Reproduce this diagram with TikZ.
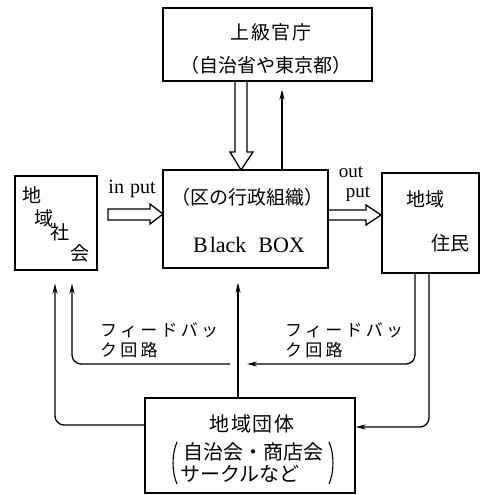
\documentclass[tikz,border=0pt]{standalone}
\usepackage{fontspec}
\setmainfont{Liberation Serif}
\newfontfamily\jp{Noto Sans CJK JP}
\newfontfamily\jps{Noto Sans CJK JP}[LetterSpace=19]
\newfontfamily\jpw{Noto Sans CJK JP}[LetterSpace=8]
\usetikzlibrary{arrows.meta,calc}
\begin{document}
\begin{tikzpicture}[x=1pt,y=1pt,
  box/.style={draw, line width=1.4pt, inner sep=0pt},
  jpt/.style={font=\jp\fontsize{19}{22}\selectfont, inner sep=0pt},
  jpb/.style={font=\jp\fontsize{20}{22}\selectfont, inner sep=0pt},
  jpk/.style={font=\jps\fontsize{17}{20}\selectfont, inner sep=0pt, anchor=west},
  lat/.style={font=\fontsize{20}{22}\selectfont, inner sep=0pt},
  arr/.style={line width=1.3pt, -{Stealth[length=10pt,width=5pt]}},
  hollow/.style={line width=1.3pt, line join=miter},
  paren/.style={line width=1.1pt}]
\useasboundingbox (0,0) rectangle (482,495);

% boxes
\node[box, minimum width=209pt, minimum height=73pt] (top) at (267.5,450.5) {};
\node[box, minimum width=82pt, minimum height=94pt] (lb) at (56,272) {};
\node[box, minimum width=165pt, minimum height=98pt] (bb) at (245.5,276) {};
\node[box, minimum width=97pt, minimum height=100pt] (rb) at (430.5,272) {};
\node[box, minimum width=210pt, minimum height=95pt] (bot) at (250,49.5) {};

% texts
\node[jpt, font=\jpw\fontsize{19}{22}\selectfont] (t1) at (271,463) {上級官庁};
\node[jpt] (t2) at (266,430) {（自治省や東京都）};
\node[jpt] (l1) at (32,300) {地};
\node[jpt] (l2) at (44,277) {域};
\node[jpt] (l3) at (60,263) {社};
\node[jpt] (l4) at (80,242) {会};
\node[jpt] (b1) at (247,298) {（区の行政組織）};
\node[lat, font=\fontsize{22}{24}\selectfont] (b2) at (249,250) {B\hspace{2pt}lack\hspace{12pt}BOX};
\node[lat] (inp) at (132,306) {in\hspace{6pt}put};
\node[lat, font=\fontsize{19}{22}\selectfont] (out1) at (351,323) {out};
\node[lat, font=\fontsize{19}{22}\selectfont] (out2) at (358,301) {put};
\node[jpt] (r1) at (425,296) {地域};
\node[jpt] (r2) at (450,252) {住民};
\node[jpb, font=\jpw\fontsize{20}{22}\selectfont] (g1) at (252,71) {地域団体};
\node[jpb] (g2) at (253,43) {自治会・商店会};
\node[jpb, anchor=west] (g3) at (180,21) {サークルなど};
\node[jpk] (f1) at (100,165) {フィードバッ};
\node[jpk] (f2) at (100,145) {ク回路};
\node[jpk] (f3) at (285,165) {フィードバッ};
\node[jpk] (f4) at (285,145) {ク回路};

% parentheses in bottom box
\draw[paren] (177,53) .. controls (171.7,41) and (171.7,23) .. (177,11);
\draw[paren] (329,53) .. controls (334.3,41) and (334.3,23) .. (329,11);

% hollow arrows
\draw[hollow] (235,414) -- (235,343) -- (230,343) -- (241,325) -- (253,343) -- (247,343) -- (247,414);
\draw[hollow] (108,286) -- (150,286) -- (150,291) -- (163,281) -- (150,271) -- (150,275) -- (108,275) -- cycle;
\draw[hollow] (328,285) -- (366,285) -- (366,290) -- (381,280) -- (366,270) -- (366,275) -- (328,275);

% up arrow
\coordinate (u) at (282,0);
\draw[arr, shorten >=8pt] (u |- bb.north) -- (u |- top.south);

% feedback connectors
\coordinate (fL1) at (55,0);
\coordinate (fL2) at (72,0);
\coordinate (fC) at (238,0);
\coordinate (fR1) at (415,0);
\coordinate (fR2) at (429,0);
\coordinate (oL) at ($(bot.west)+(0,20.5)$);
\coordinate (iL) at (230,131);
\coordinate (oR) at ($(bot.east)+(0,18.5)$);

\draw[arr, rounded corners=9pt, shorten >=13pt] (oL) -- (oL -| fL1) -- (fL1 |- lb.south);
\draw[arr, rounded corners=9pt, shorten >=13pt] (iL) -- (iL -| fL2) -- (fL2 |- lb.south);
\draw[arr, shorten >=14pt] (fC |- bot.north) -- (fC |- bb.south);
\draw[arr, rounded corners=9pt, shorten >=9pt] (fR1 |- rb.south) -- (fR1 |- iL) -- (fC |- iL);
\draw[arr, rounded corners=9pt] (fR2 |- rb.south) -- (fR2 |- oR) -- (oR);
\end{tikzpicture}
\end{document}
